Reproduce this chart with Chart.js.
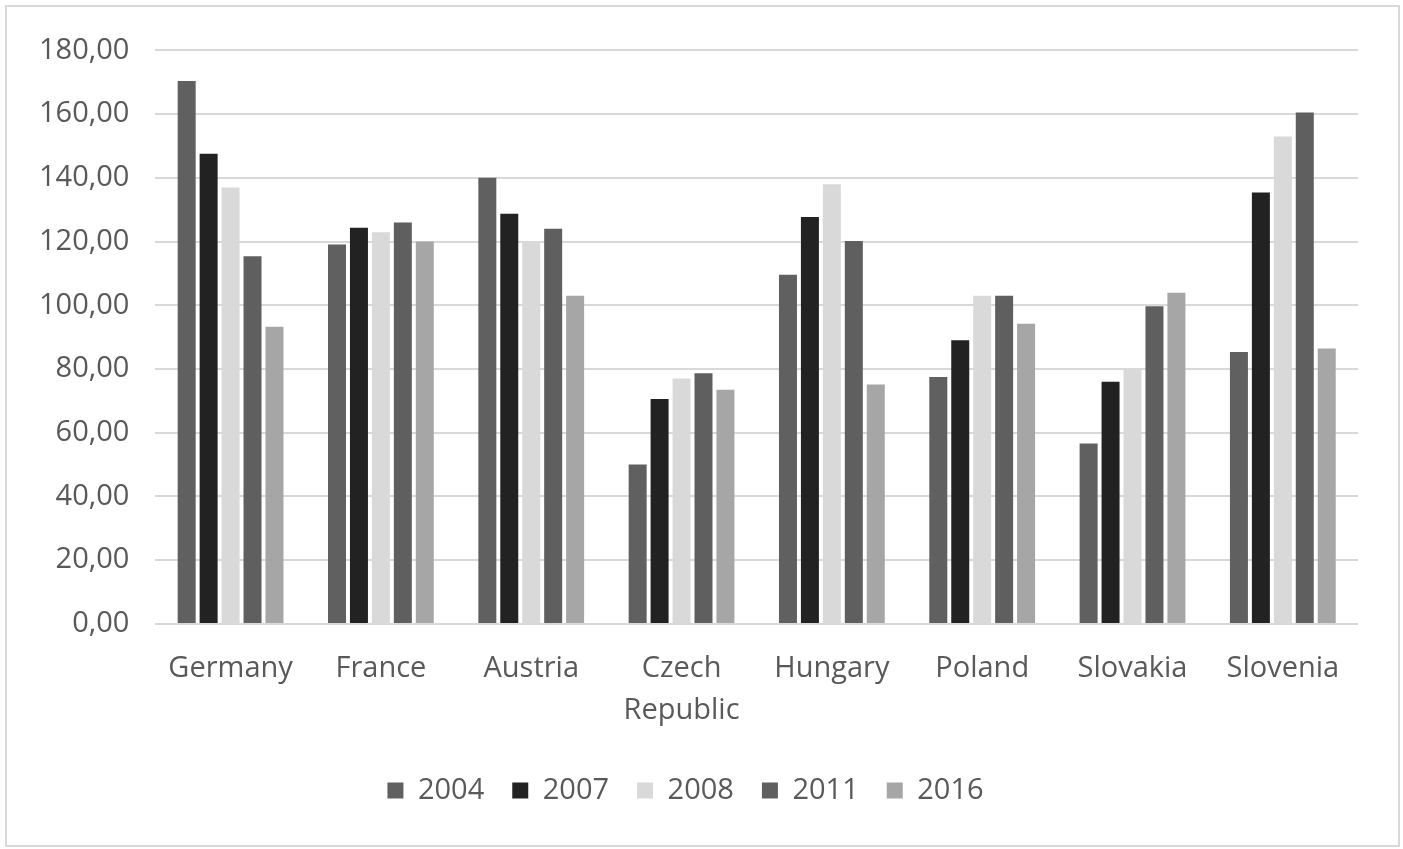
<!DOCTYPE html>
<html>
<head>
<meta charset="utf-8">
<script src="https://cdn.jsdelivr.net/npm/chart.js@4"></script>
<style>
  body { margin: 0; background: #fff; }
  #wrap { position: absolute; left: 5px; top: 5px; width: 1391px; height: 838px; border: 2px solid #d9d9d9; }
</style>
</head>
<body>
<div id="wrap"><canvas id="chart"></canvas></div>
<script>
const countries = ['Germany', 'France', 'Austria', ['Czech', 'Republic'], 'Hungary', 'Poland', 'Slovakia', 'Slovenia'];
const years = ['2004', '2007', '2008', '2011', '2016'];
const v2004 = [170.4, 119.1, 140.0, 50.0, 109.6, 77.5, 56.6, 85.3];
const v2007 = [147.6, 124.3, 128.7, 70.6, 127.7, 89.0, 76.0, 135.4];
const v2008 = [137.0, 122.9, 120.2, 77.0, 138.0, 103.0, 80.0, 153.0];
const v2011 = [115.4, 126.0, 124.0, 78.7, 120.2, 103.0, 99.7, 160.5];
const v2016 = [93.3, 120.0, 103.0, 73.5, 75.1, 94.2, 103.9, 86.4];
const colors = ['#606060', '#222222', '#d9d9d9', '#5f5f5f', '#a6a6a6'];

const series = [v2004, v2007, v2008, v2011, v2016];
const textColor = '#595959';
const font = { family: 'Open Sans', size: 29 };

const ctx = document.getElementById('chart').getContext('2d');
const myChart = new Chart(ctx, {
  type: 'bar',
  data: {
    labels: countries,
    datasets: series.map((d, i) => ({
      label: years[i],
      data: d,
      backgroundColor: colors[i],
      borderWidth: 0,
      categoryPercentage: 0.73,
      barPercentage: 0.82
    }))
  },
  options: {
    responsive: true,
    maintainAspectRatio: false,
    animation: false,
    layout: { padding: { left: 6, right: 40, top: 26, bottom: 30 } },
    scales: {
      x: {
        grid: { display: false },
        border: { display: false },
        ticks: {
          color: textColor,
          font: { family: 'Open Sans', size: 29, lineHeight: 1.45 },
          padding: 16, maxRotation: 0, autoSkip: false
        }
      },
      y: {
        min: 0,
        max: 180,
        grid: { color: '#d9d9d9', lineWidth: 2, drawTicks: false },
        border: { display: false },
        ticks: {
          stepSize: 20,
          color: textColor,
          font: font,
          padding: 26,
          callback: v => v.toFixed(2).replace('.', ',')
        }
      }
    },
    plugins: {
      legend: {
        position: 'bottom',
        labels: { color: textColor, font: font, boxWidth: 16, boxHeight: 16, padding: 28 }
      },
      tooltip: { enabled: false }
    }
  }
});
</script>
</body>
</html>
